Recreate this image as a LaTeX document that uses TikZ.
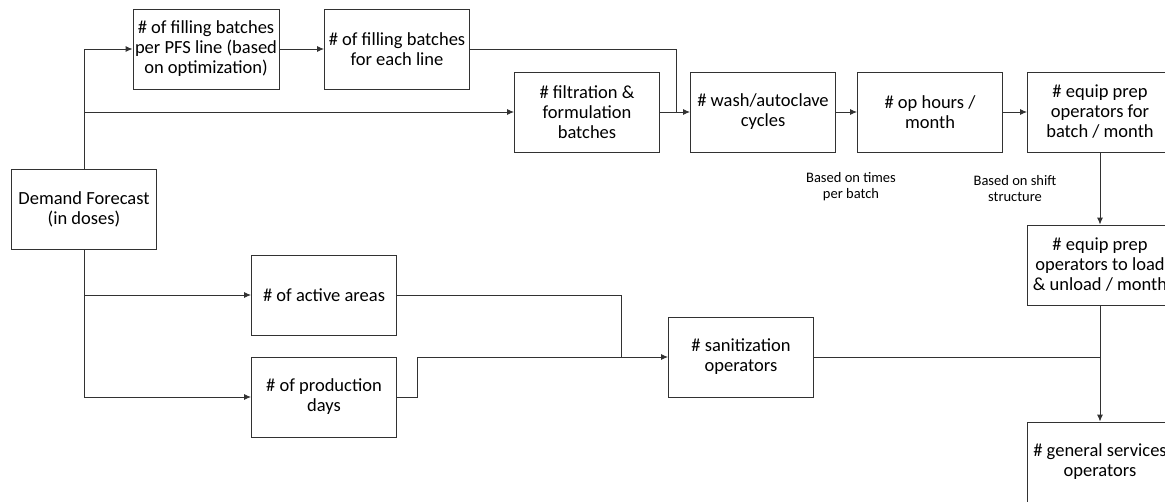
\documentclass[tikz,border=0pt]{standalone}
\usepackage{fontspec}
\setmainfont{Carlito}
\usetikzlibrary{arrows.meta,positioning,calc}
\definecolor{linegray}{RGB}{50,50,50}

\begin{document}
\begin{tikzpicture}[x=1pt,y=-1pt,>={Latex[length=7pt,width=6pt]},
    box/.style={draw=linegray,line width=0.9pt,minimum width=145pt,minimum height=80pt,
      align=center,inner sep=2pt,font=\fontsize{18.5}{20}\selectfont},
    link/.style={draw=linegray,line width=0.9pt},
    note/.style={align=center,font=\fontsize{14.5}{16}\selectfont}]
  \useasboundingbox (0,0) rectangle (1165,501);
  \clip (0,0) rectangle (1165,501);
  % demand and the upper chain
  \node[box] (demand) at (84,209) {Demand Forecast\\(in doses)};
  \node[box] (pfs) at (206,49) {\# of filling batches\\per PFS line (based\\on optimization)};
  \node[box] (eachline) at (397,49) {\# of filling batches\\for each line};
  \node[box] (filtration) at (587,112) {\# filtration \&\\formulation\\batches};
  \node[box] (wash) at (763,112) {\# wash/autoclave\\cycles};
  \node[box] (ophours) at (930,112) {\# op hours /\\month};
  \node[box] (equipbatch) at (1100,112) {\# equip prep\\operators for\\batch / month};
  \node[box] (equipload) at (1100,265) {\# equip prep\\operators to load\\\& unload / month};
  \node[box] (general) at (1100,462) {\# general services\\operators};
  % lower chain
  \node[box] (active) at (324,295) {\# of active areas};
  \node[box] (proddays) at (324,397) {\# of production\\days};
  \node[box] (sanitization) at (741,357) {\# sanitization\\operators};
  % notes
  \node[note] (timesnote) at (851,187) {Based on times\\per batch};
  \node[note] (shiftnote) at (1015,189) {Based on shift\\structure};
  % join points
  \coordinate (joinwash) at (676,112);
  \coordinate (joinsan) at (621,357);
  % connectors
  \draw[link,->] (demand.north) |- (pfs.west);
  \draw[link,->] (demand.north |- filtration.west) -- (filtration.west);
  \draw[link,->] (pfs) -- (eachline);
  \draw[link] (eachline.east) -| (joinwash);
  \draw[link,->] (filtration) -- (wash);
  \draw[link,->] (wash) -- (ophours);
  \draw[link,->] (ophours) -- (equipbatch);
  \draw[link,->] (equipbatch) -- (equipload);
  \draw[link,->] (equipload) -- (general);
  \draw[link,->] (demand.south) |- (proddays.west);
  \draw[link,->] (demand.south |- active.west) -- (active.west);
  \draw[link] (active.east) -| (joinsan);
  \draw[link,->] (proddays.east) -- ++(20,0) |- (sanitization.west);
  \draw[link] (sanitization.east) -- (sanitization.east -| general.north);
\end{tikzpicture}
\end{document}
